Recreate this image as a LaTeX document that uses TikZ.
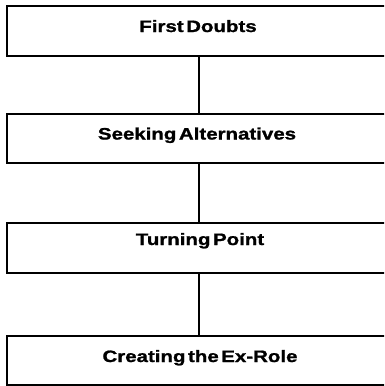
\documentclass[tikz,border=0pt]{standalone}
\usepackage{fontspec}
\setmainfont{Liberation Sans}[BoldFont={Liberation Sans Bold},BoldFeatures={FakeStretch=1.24,FakeBold=1.2,WordSpace=0.45}]
\begin{document}
\begin{tikzpicture}[x=1pt,y=-1pt,
  stage/.style={draw,line width=2.8pt,rectangle,inner sep=0pt,outer sep=0pt,minimum width=384pt},
  lbl/.style={anchor=base,inner sep=0pt,font=\fontsize{16.5}{18}\selectfont\bfseries},
  link/.style={line width=2.8pt}]
\useasboundingbox (0,0) rectangle (384,386);
\clip (0,0) rectangle (384,386);
\fill[white] (0,0) rectangle (384,386);
\node[stage,minimum height=50pt] (b1) at (199,31) {};
\node[stage,minimum height=49pt] (b2) at (199,138.5) {};
\node[stage,minimum height=50pt] (b3) at (199,248) {};
\node[stage,minimum height=49pt] (b4) at (199,360.5) {};
\node[lbl] (t1) at (198,32) {First Doubts};
\node[lbl] (t2) at (197,139.5) {Seeking Alternatives};
\node[lbl] (t3) at (200,245) {Turning Point};
\node[lbl] (t4) at (200,362) {Creating the Ex-Role};
\draw[link] (b1.south) -- (b2.north);
\draw[link] (b2.south) -- (b3.north);
\draw[link] (b3.south) -- (b4.north);
\end{tikzpicture}
\end{document}
